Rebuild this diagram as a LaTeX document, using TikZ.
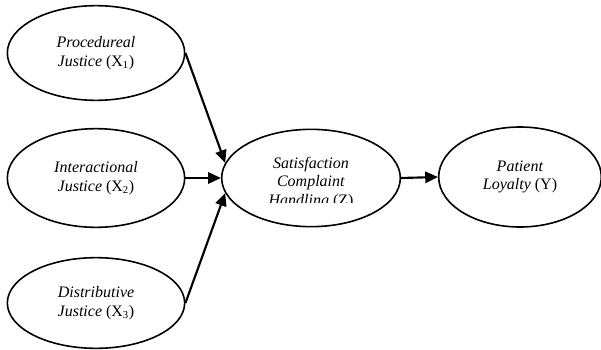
\documentclass[tikz,border=0pt]{standalone}
\usepackage{fontspec}
\setmainfont{Liberation Serif}
\usetikzlibrary{shapes.geometric,arrows.meta}
\begin{document}
\begin{tikzpicture}[x=0.75pt, y=-0.75pt, >={Triangle[length=9.5pt, width=8.5pt]},
    latent/.style={draw, ellipse, line width=1.2pt, inner sep=0pt, align=center, font=\fontsize{12}{13.8}\selectfont}]
    \useasboundingbox (0,0) rectangle (601,350);
    \node[latent, minimum width=133pt, minimum height=71pt] (x1) at (96,53) {\textit{Procedureal}\\\textit{Justice} (X\textsubscript{1})};
    \node[latent, minimum width=133pt, minimum height=74pt] (x2) at (96,178) {\textit{Interactional}\\\textit{Justice} (X\textsubscript{2})};
    \node[latent, minimum width=133pt, minimum height=68pt] (x3) at (96,303) {\textit{Distributive}\\\textit{Justice} (X\textsubscript{3})};
    \node[latent, minimum width=134pt, minimum height=73pt] (z) at (311,178) {};
    \begin{scope}
        \clip (222,130) rectangle (400,202);
        \node[font=\fontsize{12}{13.8}\selectfont, align=center] (ztext) at (311,183) {\textit{Satisfaction}\\\textit{Complaint}\\\textit{Handling} (Z)};
    \end{scope}
    \node[latent, minimum width=122pt, minimum height=75pt] (y) at (520,177) {\textit{Patient}\\\textit{Loyalty} (Y)};
    \draw[->, line width=1.6pt] (x1.east) -- (z.170);
    \draw[->, line width=1.6pt] (x2.east) -- (z.west);
    \draw[->, line width=1.6pt] (x3.east) -- (z.190);
    \draw[->, line width=1.6pt] (z.east) -- (y.west);
\end{tikzpicture}
\end{document}
